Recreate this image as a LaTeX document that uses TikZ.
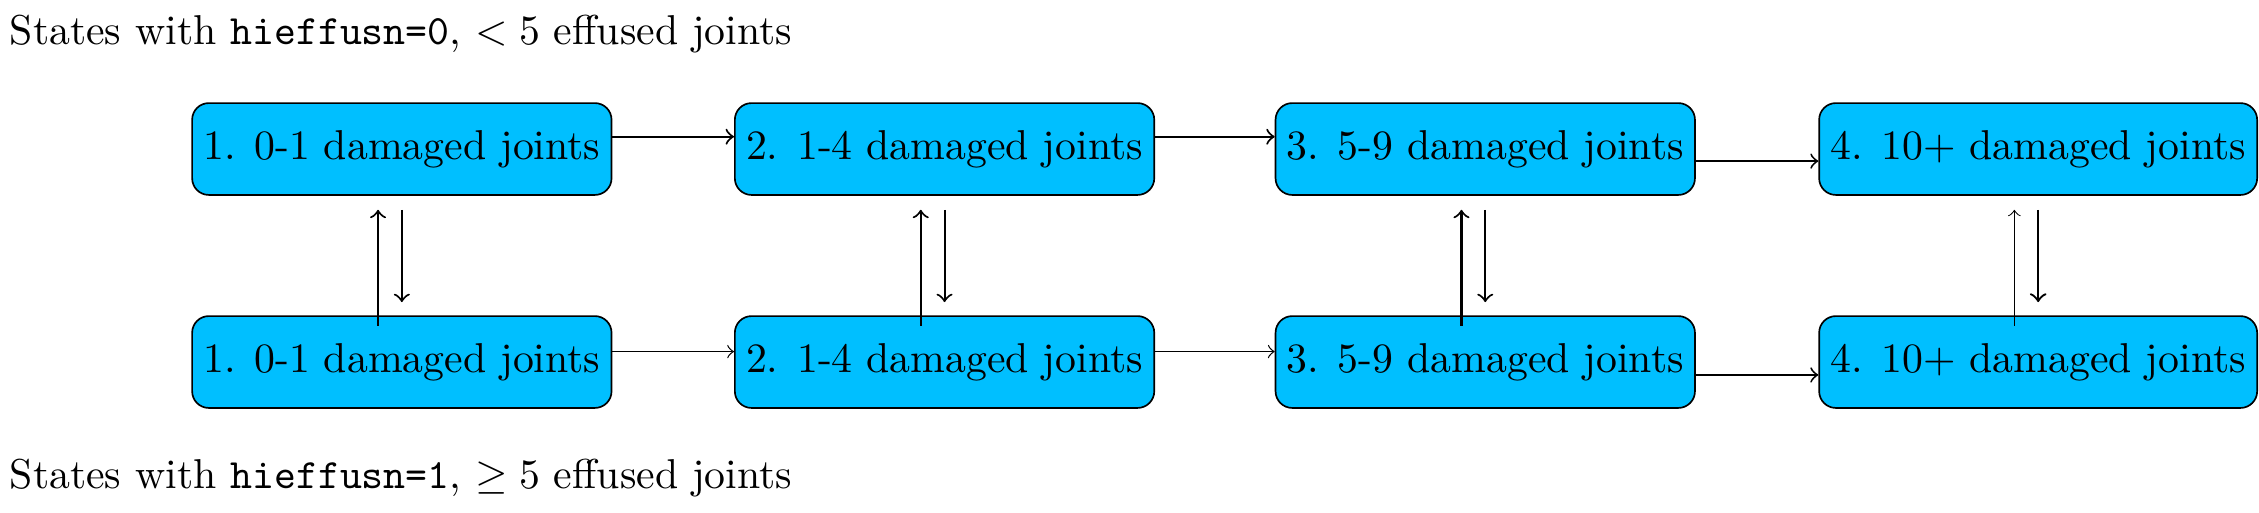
\documentclass[tikz,border=0pt]{standalone}
\usetikzlibrary{calc}
\definecolor{boxblue}{RGB}{0,191,255}
\tikzset{
  state/.style={draw, fill=boxblue, rounded corners=4pt, minimum height=22pt,
    inner xsep=2.7pt, anchor=west},
  heading/.style={anchor=base west, inner sep=0pt},
  arr/.style={->},
}
\begin{document}
\begin{tikzpicture}[x=0.2395pt, y=-0.2395pt]
\useasboundingbox (0,0) rectangle (2259,512);
% headings
\node[heading] (h1) at (9,44.7) {States with \texttt{hieffusn=0}, $<5$ effused joints};
\node[heading] (h2) at (9,488) {States with \texttt{hieffusn=1}, $\geq 5$ effused joints};
% top row
\node[state] (t1) at (191.3,149) {1. 0-1 damaged joints};
\node[state] (t2) at (734,149) {2. 1-4 damaged joints};
\node[state] (t3) at (1274.7,149) {3. 5-9 damaged joints};
\node[state] (t4) at (1818.3,149) {4. 10+ damaged joints};
% bottom row
\node[state] (b1) at (191.3,362) {1. 0-1 damaged joints};
\node[state] (b2) at (734,362) {2. 1-4 damaged joints};
\node[state] (b3) at (1274.7,362) {3. 5-9 damaged joints};
\node[state] (b4) at (1818.3,362) {4. 10+ damaged joints};
% horizontal arrows, top row
\draw[arr, line width=0.5pt] ([yshift=2.95pt]t1.east) -- ([yshift=2.95pt]t2.west);
\draw[arr, line width=0.5pt] ([yshift=2.95pt]t2.east) -- ([yshift=2.95pt]t3.west);
\draw[arr, line width=0.45pt] ([yshift=-2.9pt]t3.east) -- ([yshift=-2.9pt]t4.west);
% horizontal arrows, bottom row
\draw[arr, line width=0.3pt] ([yshift=2.5pt]b1.east) -- ([yshift=2.5pt]b2.west);
\draw[arr, line width=0.3pt] ([yshift=2.5pt]b2.east) -- ([yshift=2.5pt]b3.west);
\draw[arr, line width=0.45pt] ([yshift=-3.1pt]b3.east) -- ([yshift=-3.1pt]b4.west);
% vertical arrows
\foreach \i/\w in {1/0.5pt,2/0.5pt,3/0.5pt,4/0.25pt}{
  \draw[arr, line width=\w] ([xshift=-5.7pt,yshift=-2.55pt]b\i.north) -- ([xshift=-5.7pt,yshift=-3.35pt]t\i.south);
}
\foreach \i/\w in {1/0.5pt,2/0.5pt,3/0.5pt,4/0.55pt}{
  \draw[arr, line width=\w] ([yshift=-3.35pt]t\i.south) -- ([yshift=3.15pt]b\i.north);
}
\end{tikzpicture}
\end{document}
